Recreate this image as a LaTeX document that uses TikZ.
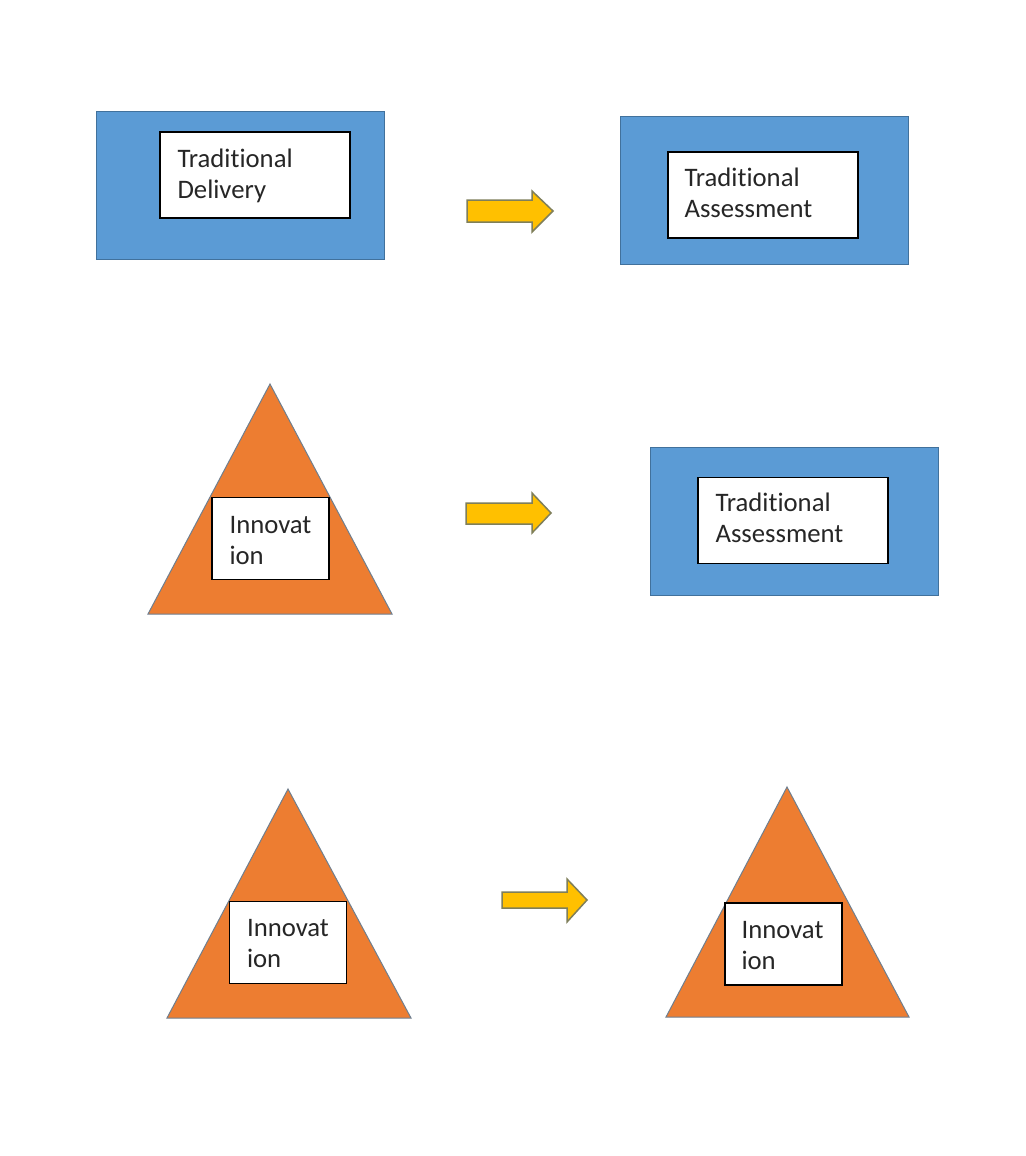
\documentclass[tikz,border=0pt]{standalone}
\usepackage{fontspec}
\setmainfont[Ligatures=NoCommon]{Carlito}
\usetikzlibrary{calc}
\definecolor{blueF}{HTML}{5B9BD5}
\definecolor{blueD}{HTML}{41719C}
\definecolor{orangeF}{HTML}{ED7D31}
\definecolor{triD}{HTML}{6F7F8F}
\definecolor{yelF}{HTML}{FFC000}
\definecolor{yelD}{HTML}{7F7F5A}
\definecolor{txt}{HTML}{262626}
\tikzset{
  bluebox/.style={fill=blueF, draw=blueD, line width=1pt, inner sep=0pt, minimum width=288pt, minimum height=148pt},
  whitebox/.style={fill=white, draw=black, line width=1.3pt, inner sep=0pt},
  wideb/.style={whitebox, minimum width=190pt, minimum height=86pt},
  narrowb/.style={whitebox, minimum width=117pt, minimum height=82pt},
  lbl/.style={font=\fontsize{26.7}{31}\selectfont, align=left, inner sep=0pt, anchor=north west, text=txt},
  tri/.style={fill=orangeF, draw=triD, line width=1pt, line join=miter},
  yarrow/.style={fill=yelF, draw=yelD, line width=1.5pt, line join=miter}
}
\begin{document}
\begin{tikzpicture}[x=1pt,y=-1pt]
\useasboundingbox[fill=white] (0,0) rectangle (1025,1156);

% Row 1
\node[bluebox] (b1) at (240,185) {};
\node[wideb] (w1) at (255,175) {};
\node[lbl] (t1) at ($(w1.north west)+(18,17)$) {Traditional\\Delivery};

\draw[yarrow] (467,200) -- (532,200) -- (532,191) -- (553,211) -- (532,232) -- (532,222) -- (467,222) -- cycle;

\node[bluebox] (b2) at (764,190.5) {};
\node[wideb] (w2) at (763,195) {};
\node[lbl] (t2) at ($(w2.north west)+(17,16)$) {Traditional\\Assessment};

% Row 2
\draw[tri] (270,384) -- (392,614) -- (148,614) -- cycle;
\node[narrowb] (w3) at (270.5,538.5) {};
\node[lbl] (t3) at ($(w3.north west)+(18,19)$) {Innovat\\ion};

\draw[yarrow] (466,503) -- (532,503) -- (532,493) -- (551,513) -- (532,533) -- (532,524) -- (466,524) -- cycle;

\node[bluebox] (b3) at (794,521) {};
\node[wideb] (w4) at (793,520.5) {};
\node[lbl] (t4) at ($(w4.north west)+(18,16)$) {Traditional\\Assessment};

% Row 3
\draw[tri] (288,789) -- (411,1018) -- (167,1018) -- cycle;
\node[narrowb] (w5) at (288,942.5) {};
\node[lbl] (t5) at ($(w5.north west)+(18,18)$) {Innovat\\ion};

\draw[yarrow] (502,892) -- (567,892) -- (567,879) -- (587,900) -- (567,922) -- (567,908) -- (502,908) -- cycle;

\draw[tri] (787,787) -- (909,1017) -- (666,1017) -- cycle;
\node[narrowb] (w6) at (783.5,944) {};
\node[lbl] (t6) at ($(w6.north west)+(17,19)$) {Innovat\\ion};
\end{tikzpicture}
\end{document}
